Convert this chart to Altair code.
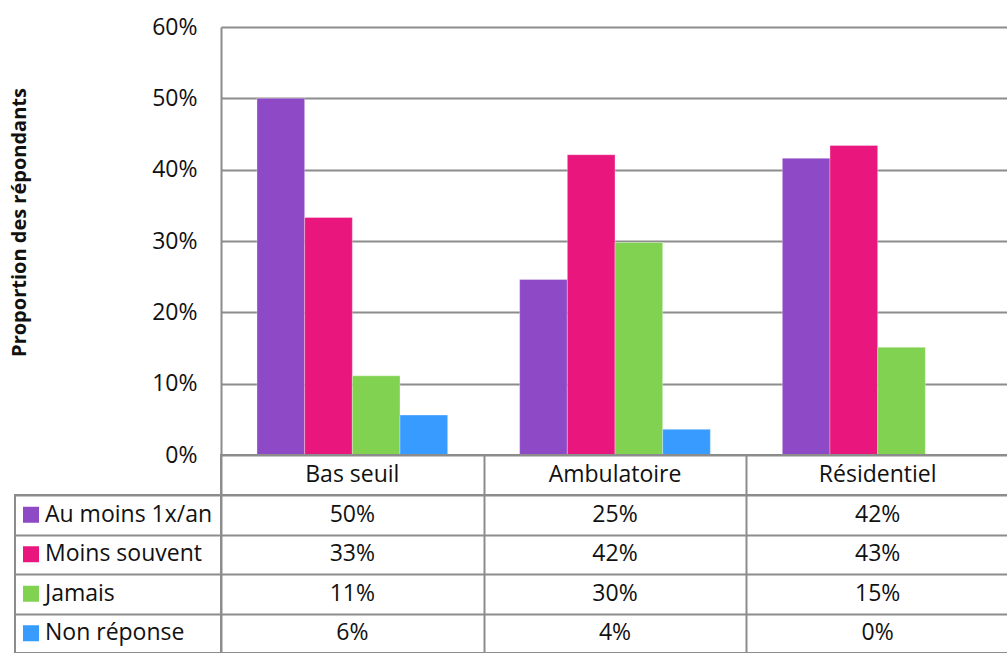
import altair as alt
import pandas as pd

# Categories (settings) and response series
categories = ["Bas seuil", "Ambulatoire", "Résidentiel"]
series = ["Au moins 1x/an", "Moins souvent", "Jamais", "Non réponse"]
colors = ["#8e49c6", "#e9177d", "#81d251", "#379bff"]

# Share of respondents per setting, one list per series (same order as categories)
au_moins_1x_an = [0.500, 0.246, 0.416]
moins_souvent = [0.333, 0.421, 0.434]
jamais = [0.111, 0.298, 0.151]
non_reponse = [0.056, 0.036, 0.000]

values_by_series = [au_moins_1x_an, moins_souvent, jamais, non_reponse]
rows = []
for s, vals in zip(series, values_by_series):
    for c, v in zip(categories, vals):
        rows.append({"category": c, "series": s, "value": v})
df = pd.DataFrame(rows)

FONT = "Open Sans"
TEXT = "#111111"
LINE = "#8c8c8c"

W = 788      # plot / table width (three columns)
L = 206      # legend column width
H_TOP = 428  # bar panel height
H_HEAD = 40  # category header row
H_ROWS = 158 # four data rows

band0 = alt.Scale(paddingInner=0, paddingOuter=0)
no_stroke = alt.ViewBackground(stroke=None)


def cell_axis(orient):
    return alt.Axis(title=None, labels=False, ticks=False, domain=False,
                    grid=True, tickBand="extent", gridColor=LINE,
                    gridWidth=2, orient=orient)


def spacer(h):
    return alt.Chart(pd.DataFrame({"v": [0]})).mark_point(opacity=0).properties(
        width=L, height=h, view=no_stroke)


# --- bar panel -------------------------------------------------------------
bars = alt.Chart(df).mark_bar(
    stroke="white", strokeWidth=0.8, strokeOpacity=0.4
).encode(
    x=alt.X("category:N", sort=categories,
            scale=alt.Scale(paddingInner=0.274, paddingOuter=0.137),
            axis=None),
    xOffset=alt.XOffset("series:N", sort=series,
                        scale=alt.Scale(domain=series)),
    y=alt.Y("value:Q",
            scale=alt.Scale(domain=[0, 0.6], nice=False),
            axis=alt.Axis(values=[0, 0.1, 0.2, 0.3, 0.4, 0.5, 0.6],
                          format=".0%",
                          title="Proportion des répondants",
                          titleFont=FONT, titleFontSize=20,
                          titleFontWeight="bold", titleColor=TEXT,
                          titlePadding=122, titleY=195,
                          labelFont=FONT, labelFontSize=23,
                          labelColor=TEXT, labelPadding=24,
                          ticks=False, tickSize=0,
                          domainColor=LINE, domainWidth=2,
                          grid=True, gridColor=LINE, gridWidth=2)),
    color=alt.Color("series:N",
                    scale=alt.Scale(domain=series, range=colors),
                    legend=None),
).properties(width=W, height=H_TOP, view=no_stroke)

# --- header row with category names -----------------------------------------
header = alt.Chart(pd.DataFrame({"category": categories})).mark_text(
    font=FONT, fontSize=23, color=TEXT
).encode(
    x=alt.X("category:N", sort=categories, scale=band0, axis=cell_axis("top")),
    text="category:N",
).properties(width=W, height=H_HEAD)

# --- legend column -----------------------------------------------------------
leg_base = alt.Chart(pd.DataFrame({"series": series})).encode(
    y=alt.Y("series:N", sort=series, scale=band0, axis=cell_axis("left")),
)
swatches = leg_base.mark_square(size=256, opacity=1).encode(
    x=alt.value(16),
    color=alt.Color("series:N",
                    scale=alt.Scale(domain=series, range=colors),
                    legend=None),
)
labels = leg_base.mark_text(align="left", font=FONT, fontSize=23,
                            color=TEXT).encode(
    x=alt.value(30),
    text="series:N",
)
legend_col = alt.layer(swatches, labels).properties(width=L, height=H_ROWS)

# --- values table ------------------------------------------------------------
table = alt.Chart(df).mark_text(font=FONT, fontSize=23, color=TEXT).encode(
    x=alt.X("category:N", sort=categories, scale=band0, axis=cell_axis("top")),
    y=alt.Y("series:N", sort=series, scale=band0, axis=cell_axis("left")),
    text=alt.Text("value:Q", format=".0%"),
).properties(width=W, height=H_ROWS)

chart = alt.concat(
    spacer(H_TOP), bars,
    spacer(H_HEAD), header,
    legend_col, table,
    columns=2, spacing=0, bounds="flush",
).properties(
    padding={"left": 9, "top": 16, "right": -3, "bottom": 0},
    background="white",
).configure_view(stroke=LINE, strokeWidth=2)

chart.save("out.html", embed_options={"renderer": "svg", "actions": False})
